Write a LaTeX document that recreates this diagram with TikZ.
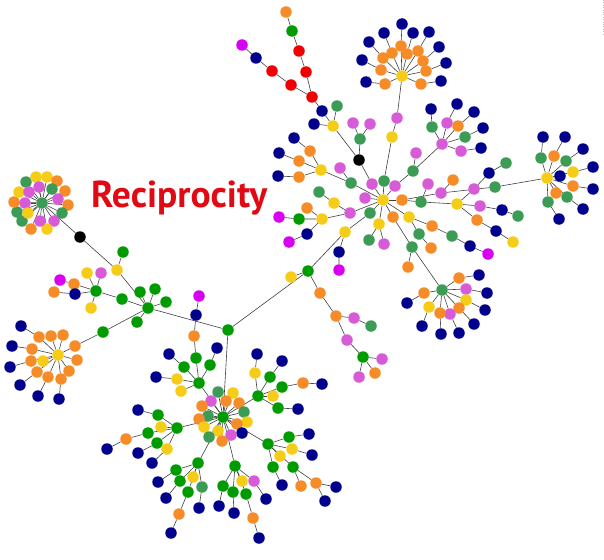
\documentclass[tikz,border=0pt]{standalone}
\usepackage{fontspec}
\newfontfamily\labelfont{PT Sans}
\usetikzlibrary{backgrounds}
\definecolor{cb}{RGB}{0,0,140}
\definecolor{co}{RGB}{245,140,40}
\definecolor{cy}{RGB}{245,205,25}
\definecolor{cg}{RGB}{0,155,0}
\definecolor{cs}{RGB}{60,155,85}
\definecolor{cm}{RGB}{215,90,215}
\definecolor{cv}{RGB}{215,0,240}
\definecolor{cr}{RGB}{240,0,0}
\definecolor{ck}{RGB}{0,0,0}
\definecolor{titlered}{RGB}{225,10,20}

\begin{document}
\begin{tikzpicture}[x=1pt, y=-1pt,
  dot/.style={circle, inner sep=0pt, minimum size=11.5pt},
  link/.style={draw=black!75, line width=0.6pt}]
\useasboundingbox (0,0) rectangle (604,559);

\foreach \n/\x/\y/\ca in {fh/42/203/cs,k1/80/237/ck,y1/117/270/cy,bh/148/308/cg,b1/122/299/cg,bs/96/291/cg,b2/103/332/cg,b3/75/346/co,ch/58/355/cy,
  jn/228/330/cg,dh/223/417/cg,d1/199/383/cg,d2/258/396/cg,d3/177/428/cg,d4/268/444/cg,d5/198/463/cg,d6/235/466/cg,
  u1/196/358/cg,u2/194/336/co,u3/196/315/cb,u4/199/296/cv,
  e1/148/433/cg,e2/126/439/co,e3/107/449/cb,e4/293/467/cg,e5/316/483/co,
  e6/188/492/cg,e7/179/514/co,e8/171/533/cb,e9/246/494/cg,e10/253/518/co,e11/259/538/cb,
  e12/282/387/cg,e13/303/383/co,e14/322/384/cb,
  m1/308/271/cg,m2/345/232/cy,m3/370/213/cs,mh/383/200/cy,m4/320/293/co,m5/336/316/co,m6/347/340/cm,m7/363/357/cg,
  a1/372/184/cm,k2/359/160/ck,a2/360/139/cs,a3/333/126/cy,a4/322/111/cb,
  r1/312/97/cr,r2/306/72/cr,r3/299/51/cr,r4/291/85/cr,r5/272/71/cr,
  a5/384/181/cs,a6/392/137/cy,a7/397/118/cm,th/402/76/cy,
  a8/395/186/cm,a9/413/171/cs,ph/442/144/cm,
  a10/402/200/co,a11/441/193/cm,a12/495/187/cs,rh/547/178/cy,
  a13/421/202/cs,a14/457/204/cy,a15/474/189/cm,a16/480/206/cm,a17/502/210/cb,a18/477/220/co,a19/496/231/cb,
  a20/365/198/cm,a21/350/213/cm,a22/334/203/cy,a23/322/219/cy,a24/351/183/cs,a25/321/170/cy,a26/379/224/cy,
  a27/393/217/co,a28/412/247/cs,eh/442/290/cs,a29/409/217/cy,a30/432/226/co,a31/452/236/cs}
  \node[dot, fill=\ca] (\n) at (\x,\y) {};

\begin{scope}[on background layer]
\foreach \a/\b in {fh/k1,k1/y1,y1/bh,bh/b1,b1/bs,bh/b2,b2/b3,b3/ch,bh/jn,jn/dh,
  dh/d1,dh/d2,dh/d3,dh/d4,dh/d5,dh/d6,d1/u1,u1/u2,u2/u3,u3/u4,
  d3/e1,e1/e2,e2/e3,d4/e4,e4/e5,d5/e6,e6/e7,e7/e8,d6/e9,e9/e10,e10/e11,d2/e12,e12/e13,e13/e14,
  jn/m1,m1/m2,m2/m3,m3/mh,m1/m4,m4/m5,m5/m6,m6/m7,
  mh/a1,a1/k2,k2/a2,k2/a3,a3/a4,a4/r1,r1/r2,r2/r3,r1/r4,r4/r5,
  mh/a5,a5/a6,a6/a7,a7/th,mh/a8,a8/a9,a9/ph,mh/a10,a10/a11,a11/a12,a12/rh,
  a10/a13,a13/a14,a14/a15,a14/a16,a16/a17,a14/a18,a18/a19,
  mh/a20,mh/a21,a21/a22,a21/a23,mh/a24,a24/a25,mh/a26,mh/a27,a27/a28,a28/eh,mh/a29,a29/a30,a30/a31}
  \draw[link] (\a) -- (\b);
\end{scope}

\foreach \up/\x/\y/\ca [count=\i] in {fh/26/182/cs,fh/36/177/cy,fh/47/177/cy,fh/57/181/co,fh/65/191/co,fh/68/205/co,fh/62/213/cs,
  fh/54/221/cm,fh/47/229/cy,fh/31/229/co,fh/22/221/cs,fh/17/212/cs,fh/14/202/co,fh/19/192/cy,
  fh/39/187/cm,fh/52/189/cs,fh/29/192/cm,fh/58/199/cm,fh/25/203/cm,fh/28/213/cy,fh/40/221/cm,
  y1/123/252/cg,bh/140/292/cg,bh/155/289/cg,bh/166/302/cg,bh/137/322/cg,
  bs/87/273/cy,bs/101/273/cm,bs/91/308/cy,
  ch/43/361/cy,ch/51/336/co,ch/63/335/co,ch/77/360/co,ch/69/371/co,
  dh/218/392/cs,dh/233/393/cy,dh/211/401/cm,dh/226/401/co,dh/239/403/co,dh/202/406/co,dh/244/412/cs,
  dh/208/416/cs,dh/199/419/co,dh/247/422/cy,dh/237/424/co,dh/204/427/cy,dh/242/433/cb,dh/218/431/cy,
  dh/231/435/cm,dh/209/437/cs,dh/222/441/co,
  d1/181/391/cy,d2/273/396/cy,d3/161/427/cy,d4/280/456/cy,d5/193/477/cy,d6/242/481/cy,
  e4/301/486/co,e5/336/487/cb,e5/325/501/cb,
  m1/291/277/cy,m7/382/359/cm,m7/359/377/cm,m7/375/373/co,
  a2/353/123/cm,a2/370/124/cm,a3/314/124/cb,a3/337/106/cs,
  a9/416/153/cm,a11/453/180/co,a13/428/184/cm,a17/518/216/cs,a19/513/242/cy,
  a22/319/192/cs,a23/307/208/co,a24/340/168/cm,a26/369/240/cs,a26/384/244/cm,a28/408/267/co,
  rh/560/176/cb,rh/556/193/co} {
  \node[dot, fill=\ca] (l\i) at (\x,\y) {};
  \begin{scope}[on background layer]
    \draw[link] (\up) -- (l\i);
  \end{scope}
}

\foreach \up/\x/\y/\ca/\xb/\yb/\cc [count=\i] in {ch/39/337/co/21/326/cb,ch/32/349/co/12/346/cb,ch/31/361/co/10/367/cb,
  ch/37/372/co/20/385/cb,ch/48/377/co/38/396/cb,ch/61/379/co/59/399/cb,
  bs/74/284/co/60/280/cv,bs/75/294/cb/54/292/co,
  d1/184/367/cg/169/354/cb,d1/210/365/cg/217/348/cb,d1/177/379/cy/156/377/cb,
  d2/255/373/cy/257/354/cb,d2/270/377/cg/282/361/cb,d2/278/408/cg/298/409/cb,
  d3/158/415/cg/138/410/cb,d3/157/443/cg/138/453/cb,d3/167/449/cy/152/463/cb,
  d4/289/437/cg/309/434/cb,d4/292/449/cy/312/455/cb,d4/273/467/cg/282/485/cb,
  d5/176/470/cg/158/482/cb,d5/180/481/cg/166/498/cb,d5/202/487/cs/199/508/cb,
  d6/223/486/cg/219/506/cb,d6/233/492/cg/234/513/cb,d6/254/481/cm/266/499/cb,
  m2/339/252/cb/339/270/cv,m5/354/318/cm/371/326/cs,
  r3/292/31/cg/286/12/co,r5/256/58/cb/242/45/cv,
  th/385/84/co/366/82/cb,th/381/70/co/362/60/cb,th/383/58/co/369/42/cb,th/392/53/co/384/33/cb,
  th/401/46/co/402/24/cb,th/407/54/co/413/33/cb,th/418/51/co/429/32/cb,th/423/61/co/439/47/cb,
  th/426/71/co/446/63/cb,th/421/84/co/441/81/cb,
  ph/432/127/cs/431/109/cb,ph/447/123/cm/457/104/cb,ph/458/126/co/474/112/cb,ph/465/137/cs/483/128/cb,
  ph/461/151/cm/481/148/cb,
  a15/489/173/cb/506/163/cs,
  a23/299/219/cg/279/217/cv,a23/307/234/cb/289/242/cv,
  a25/310/151/co/294/138/cb,a25/299/161/co/279/153/cb,a25/299/177/co/278/176/cb,
  a29/419/234/cs/431/248/co,a31/470/246/cb/488/254/cv,
  eh/459/278/co/479/275/cb,eh/466/289/cm/487/293/cb,eh/466/300/cy/485/310/cb,eh/459/308/co/474/324/cb,
  eh/450/314/cm/459/333/cb,eh/440/313/co/441/334/cb,eh/429/307/cy/422/326/cb,eh/424/293/co/407/303/cb,
  rh/541/158/cs/543/137/cb,rh/554/156/co/565/137/cb,rh/566/161/cs/583/149/cb,rh/573/172/cy/593/167/cb,
  rh/573/186/co/593/189/cb,rh/567/197/cs/583/209/cb,rh/548/202/cs/559/219/cb} {
  \node[dot, fill=\ca] (q\i) at (\x,\y) {};
  \node[dot, fill=\cc] (qq\i) at (\xb,\yb) {};
  \begin{scope}[on background layer]
    \draw[link] (\up) -- (q\i) -- (qq\i);
  \end{scope}
}

\node[anchor=base west, inner sep=0pt, text=titlered, font=\labelfont\bfseries\fontsize{37.5}{38}\selectfont] (title) at (91,207) {Reciprocity};

\coordinate (edgetop) at (603,0);
\coordinate (edgebot) at (603,35);
\draw[gray!50, dotted] (edgetop) -- (edgebot);
\end{tikzpicture}
\end{document}
